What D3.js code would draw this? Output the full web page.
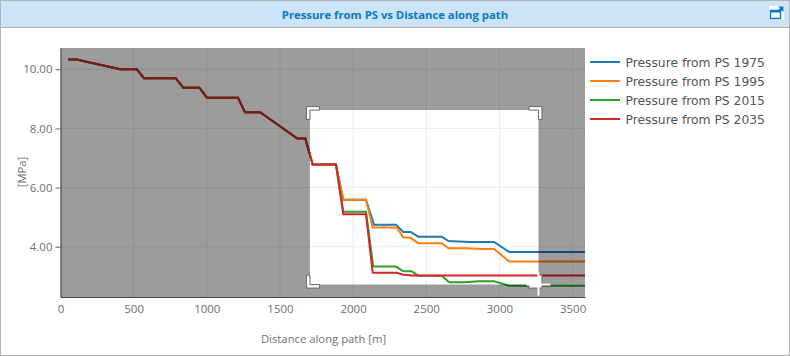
<!DOCTYPE html>
<html>
<head>
<meta charset="utf-8">
<script src="https://cdn.jsdelivr.net/npm/d3@7"></script>
<style>
  html, body { margin: 0; padding: 0; background: #fff; }
  svg { display: block; }
  .tick text { font-family: "Open Sans", sans-serif; font-size: 11.5px; fill: #707070; }
</style>
</head>
<body>
<div id="chart"></div>
<script>
const chartTitle = 'Pressure from PS vs Distance along path';
const xLabel = 'Distance along path [m]';
const yLabel = '[MPa]';
const seriesNames = ['Pressure from PS 1975', 'Pressure from PS 1995', 'Pressure from PS 2015', 'Pressure from PS 2035'];
const seriesColors = ['#1f77b4', '#ff7f0e', '#2ca02c', '#d62728'];
const xTicks = [0, 500, 1000, 1500, 2000, 2500, 3000, 3500];
const yTicks = [4, 6, 8, 10];
const xDomain = [0, 3585];
const yDomain = [2.3, 10.72];
const selX = [1705, 3267];
const selY = [2.72, 8.62];

// upstream stretch is the same for every year
const sharedX = [53, 110, 407, 521, 571, 787, 840, 949, 1001, 1213, 1261, 1364, 1619, 1673, 1724, 1883];
const sharedP = [10.33, 10.33, 10.0, 10.0, 9.7, 9.7, 9.38, 9.38, 9.04, 9.04, 8.55, 8.55, 7.66, 7.66, 6.78, 6.78];

const x1975 = [1933, 2088, 2143, 2293, 2343, 2393, 2446, 2606, 2651, 2798, 2963, 3068, 3585];
const p1975 = [5.59, 5.59, 4.74, 4.74, 4.50, 4.50, 4.34, 4.34, 4.19, 4.16, 4.16, 3.82, 3.82];
const x1995 = [1933, 2088, 2134, 2298, 2343, 2389, 2446, 2606, 2651, 2776, 2880, 2963, 3068, 3585];
const p1995 = [5.59, 5.59, 4.65, 4.65, 4.31, 4.31, 4.12, 4.12, 3.95, 3.95, 3.92, 3.92, 3.50, 3.50];
const x2015 = [1933, 2088, 2138, 2293, 2343, 2400, 2446, 2606, 2656, 2765, 2856, 2963, 3068, 3585];
const p2015 = [5.18, 5.18, 3.33, 3.33, 3.17, 3.17, 3.02, 3.02, 2.80, 2.80, 2.83, 2.83, 2.68, 2.68];
const x2035 = [1933, 2088, 2134, 2298, 2343, 2400, 3585];
const p2035 = [5.10, 5.10, 3.12, 3.12, 3.05, 3.03, 3.03];

const tailsX = [x1975, x1995, x2015, x2035];
const tailsP = [p1975, p1995, p2015, p2035];

const W = 790, H = 356;
const margin = { top: 48, right: 205, bottom: 59, left: 60.5 };

const svg = d3.select('#chart').append('svg').attr('width', W).attr('height', H);

// panel frame and header
svg.append('rect').attr('x', 0.5).attr('y', 0.5).attr('width', W - 1).attr('height', H - 1).attr('fill', '#fff').attr('stroke', '#b4b4b4');
svg.append('rect').attr('x', 1).attr('y', 1).attr('width', W - 2).attr('height', 26).attr('fill', '#cce4f7');
svg.append('line').attr('x1', 1).attr('x2', W - 1).attr('y1', 27.5).attr('y2', 27.5).attr('stroke', '#b4b4b4');
svg.append('text').attr('x', 395).attr('y', 19).attr('text-anchor', 'middle')
    .style('font-family', '"Open Sans", sans-serif').style('font-size', '11.3px').style('font-weight', 700)
    .attr('fill', '#0a78c8').text(chartTitle);

// expand icon
const icon = svg.append('g');
icon.append('rect').attr('x', 769).attr('y', 6).attr('width', 15).attr('height', 14).attr('fill', '#fff');
icon.append('rect').attr('x', 770.5).attr('y', 10.5).attr('width', 10).attr('height', 8)
    .attr('fill', 'none').attr('stroke', '#0a78c8').attr('stroke-width', 1.5);
icon.append('rect').attr('x', 770).attr('y', 10).attr('width', 11).attr('height', 2.5).attr('fill', '#0a78c8');
icon.append('path').attr('d', 'M778 6.5H783.5V12L781.8 10.3L779.8 12L778 10.2L780 8.2Z').attr('fill', '#0a78c8');

const x = d3.scaleLinear().domain(xDomain).range([margin.left, W - margin.right]);
const y = d3.scaleLinear().domain(yDomain).range([H - margin.bottom, margin.top]);

// grid
const grid = svg.append('g').attr('stroke', '#ececec');
grid.selectAll('line.gx').data(xTicks.slice(1)).enter().append('line').attr('class', 'gx')
    .attr('x1', d => x(d)).attr('x2', d => x(d)).attr('y1', y.range()[1]).attr('y2', y.range()[0]);
grid.selectAll('line.gy').data(yTicks).enter().append('line').attr('class', 'gy')
    .attr('x1', x.range()[0]).attr('x2', x.range()[1]).attr('y1', d => y(d)).attr('y2', d => y(d));

// lines
const line = d3.line().x(d => x(d[0])).y(d => y(d[1]));
seriesNames.forEach((name, i) => {
    const pts = d3.zip(sharedX.concat(tailsX[i]), sharedP.concat(tailsP[i]));
    svg.append('path').datum(pts).attr('d', line).attr('fill', 'none')
        .attr('stroke', seriesColors[i]).attr('stroke-width', 2);
});

// dark mask around the selected window
const sx0 = x(selX[0]), sx1 = x(selX[1]), sy0 = y(selY[1]), sy1 = y(selY[0]);
const px0 = x.range()[0], px1 = x.range()[1], py0 = y.range()[1], py1 = y.range()[0];
svg.append('path')
    .attr('d', `M${px0},${py0}H${px1}V${py1}H${px0}Z M${sx0},${sy0}H${sx1}V${sy1}H${sx0}Z`)
    .attr('fill-rule', 'evenodd').attr('fill', '#000').attr('fill-opacity', 0.39);

// corner handles
function corner(cx, cy, dx, dy) {
    const a = 13, t = 3.5;
    const d = `M${cx},${cy}h${dx * a}v${dy * t}h${-dx * (a - t)}v${dy * (a - t)}h${-dx * t}Z`;
    svg.append('path').attr('d', d).attr('fill', '#fff').attr('stroke', '#666').attr('stroke-width', 1);
}
corner(sx0 - 3.5, sy0 - 3.5, 1, 1);
corner(sx1 + 3.5, sy0 - 3.5, -1, 1);
corner(sx0 - 3.5, sy1 + 3.5, 1, -1);
corner(sx1 + 3.5, sy1 + 3.5, -1, -1);

// mouse cross
const cross = svg.append('g').attr('stroke', '#fff').attr('stroke-width', 2);
cross.append('line').attr('x1', sx1).attr('x2', sx1).attr('y1', sy1 - 12).attr('y2', sy1 + 11);
cross.append('line').attr('x1', sx1 - 12).attr('x2', sx1 + 12).attr('y1', sy1).attr('y2', sy1);

// axes
const axisX = svg.append('g').attr('transform', `translate(0,${y.range()[0]})`)
    .call(d3.axisBottom(x).tickValues(xTicks).tickSize(0).tickPadding(8).tickFormat(d3.format('d')));
axisX.select('.domain').attr('stroke', '#444');
const axisY = svg.append('g').attr('transform', `translate(${x.range()[0]},0)`)
    .call(d3.axisLeft(y).tickValues(yTicks).tickSize(5).tickSizeOuter(0).tickPadding(3).tickFormat(d3.format('.2f')));
axisY.select('.domain').attr('stroke', '#444');
axisY.selectAll('.tick line').attr('stroke', '#666');

svg.append('text').attr('x', 323.5).attr('y', 343).attr('text-anchor', 'middle')
    .style('font-family', '"Open Sans", sans-serif').style('font-size', '11.3px').attr('fill', '#707070').text(xLabel);
svg.append('text').attr('transform', 'translate(26,172) rotate(-90)').attr('text-anchor', 'middle')
    .style('font-family', '"Open Sans", sans-serif').style('font-size', '11.3px').attr('fill', '#707070').text(yLabel);

// legend
const legend = svg.append('g').attr('transform', 'translate(590,62)');
seriesNames.forEach((name, i) => {
    const row = legend.append('g').attr('transform', `translate(0,${i * 19})`);
    row.append('line').attr('x1', 0).attr('x2', 30).attr('stroke', seriesColors[i]).attr('stroke-width', 2);
    row.append('text').attr('x', 35.5).attr('y', 4.5)
        .style('font-family', '"DejaVu Sans", sans-serif').style('font-size', '12.3px').attr('fill', '#555').text(name);
});
</script>
</body>
</html>
